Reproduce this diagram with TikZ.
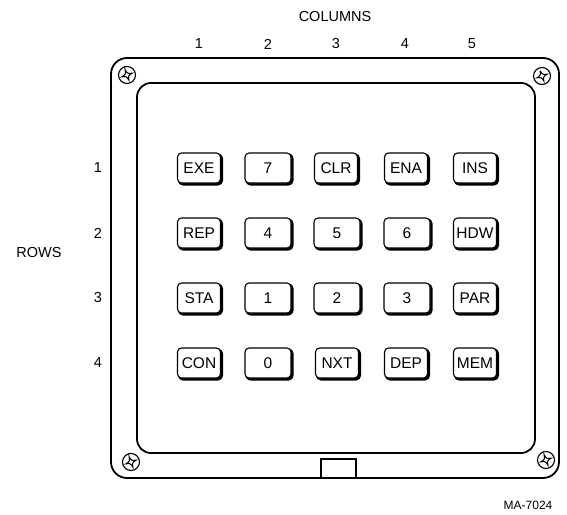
\documentclass[tikz,border=0pt]{standalone}
\usepackage{fontspec}
\setmainfont{Liberation Sans}
\begin{document}
\begin{tikzpicture}[x=1pt,y=-1pt,
  lbl/.style={font=\fontsize{14.5}{16}\selectfont, inner sep=0pt},
  keybox/.style={draw, line width=1.1pt, rounded corners=4pt, fill=white,
     minimum height=30pt, inner sep=0pt, font=\fontsize{15.5}{17}\selectfont},
  keyw/.style={keybox, minimum width=43pt},
  keyn/.style={keybox, minimum width=46pt},
  screw/.pic={
    \draw[line width=1.1pt] (0,0) circle (8.5);
    \draw[line width=1pt, rotate=20] (0,-5.5) .. controls (1,-1) .. (5.5,0)
       .. controls (1,1) .. (0,5.5) .. controls (-1,1) .. (-5.5,0)
       .. controls (-1,-1) .. cycle;
  }]
\useasboundingbox (0,0) rectangle (567,514);

% frames
\draw[line width=1.8pt, rounded corners=16pt] (111,58) rectangle (559,478);
\draw[line width=1.8pt, rounded corners=14pt] (137,83) rectangle (535,453);
% tab
\draw[line width=1.1pt] (321,478) -- (321,459) -- (356,459) -- (356,478);

% screws
\pic at (127,75) {screw};
\pic at (542,76) {screw};
\pic at (131,462) {screw};
\pic at (546,460) {screw};

% labels
\node[lbl] (cols) at (335,17) {COLUMNS};
\node[lbl] (c1) at (199,44) {1};
\node[lbl] (c2) at (268,44) {2};
\node[lbl] (c3) at (336,44) {3};
\node[lbl] (c4) at (405,44) {4};
\node[lbl] (c5) at (472,44) {5};
\node[lbl] (rows) at (39,253) {ROWS};
\node[lbl] (r1) at (98,168) {1};
\node[lbl] (r2) at (98,233) {2};
\node[lbl] (r3) at (98,298) {3};
\node[lbl] (r4) at (98,363) {4};
\node[font=\fontsize{12}{14}\selectfont, inner sep=0pt] (ma) at (528,505) {MA-7024};

% keys
\foreach \name/\txt/\x/\y/\st in {
  k11/EXE/199/168/keyw, k12/7/268/168/keyn, k13/CLR/336/168/keyw, k14/ENA/406/168/keyw, k15/INS/475/168/keyw,
  k21/REP/199/233/keyw, k22/4/268/233/keyn, k23/5/337/233/keyn, k24/6/407/233/keyn, k25/HDW/475/233/keyw,
  k31/STA/199/298/keyw, k32/1/268/298/keyn, k33/2/337/298/keyn, k34/3/407/298/keyn, k35/PAR/475/298/keyw,
  k41/CON/199/363/keyw, k42/0/268/363/keyn, k43/NXT/337/363/keyw, k44/DEP/406/363/keyw, k45/MEM/475/363/keyw}
{
  \node[\st, line width=2pt, fill=black] at (\x+1.5,\y+1.5) {\phantom{\txt}};
  \node[\st] (\name) at (\x,\y) {\txt};
}
\end{tikzpicture}
\end{document}
